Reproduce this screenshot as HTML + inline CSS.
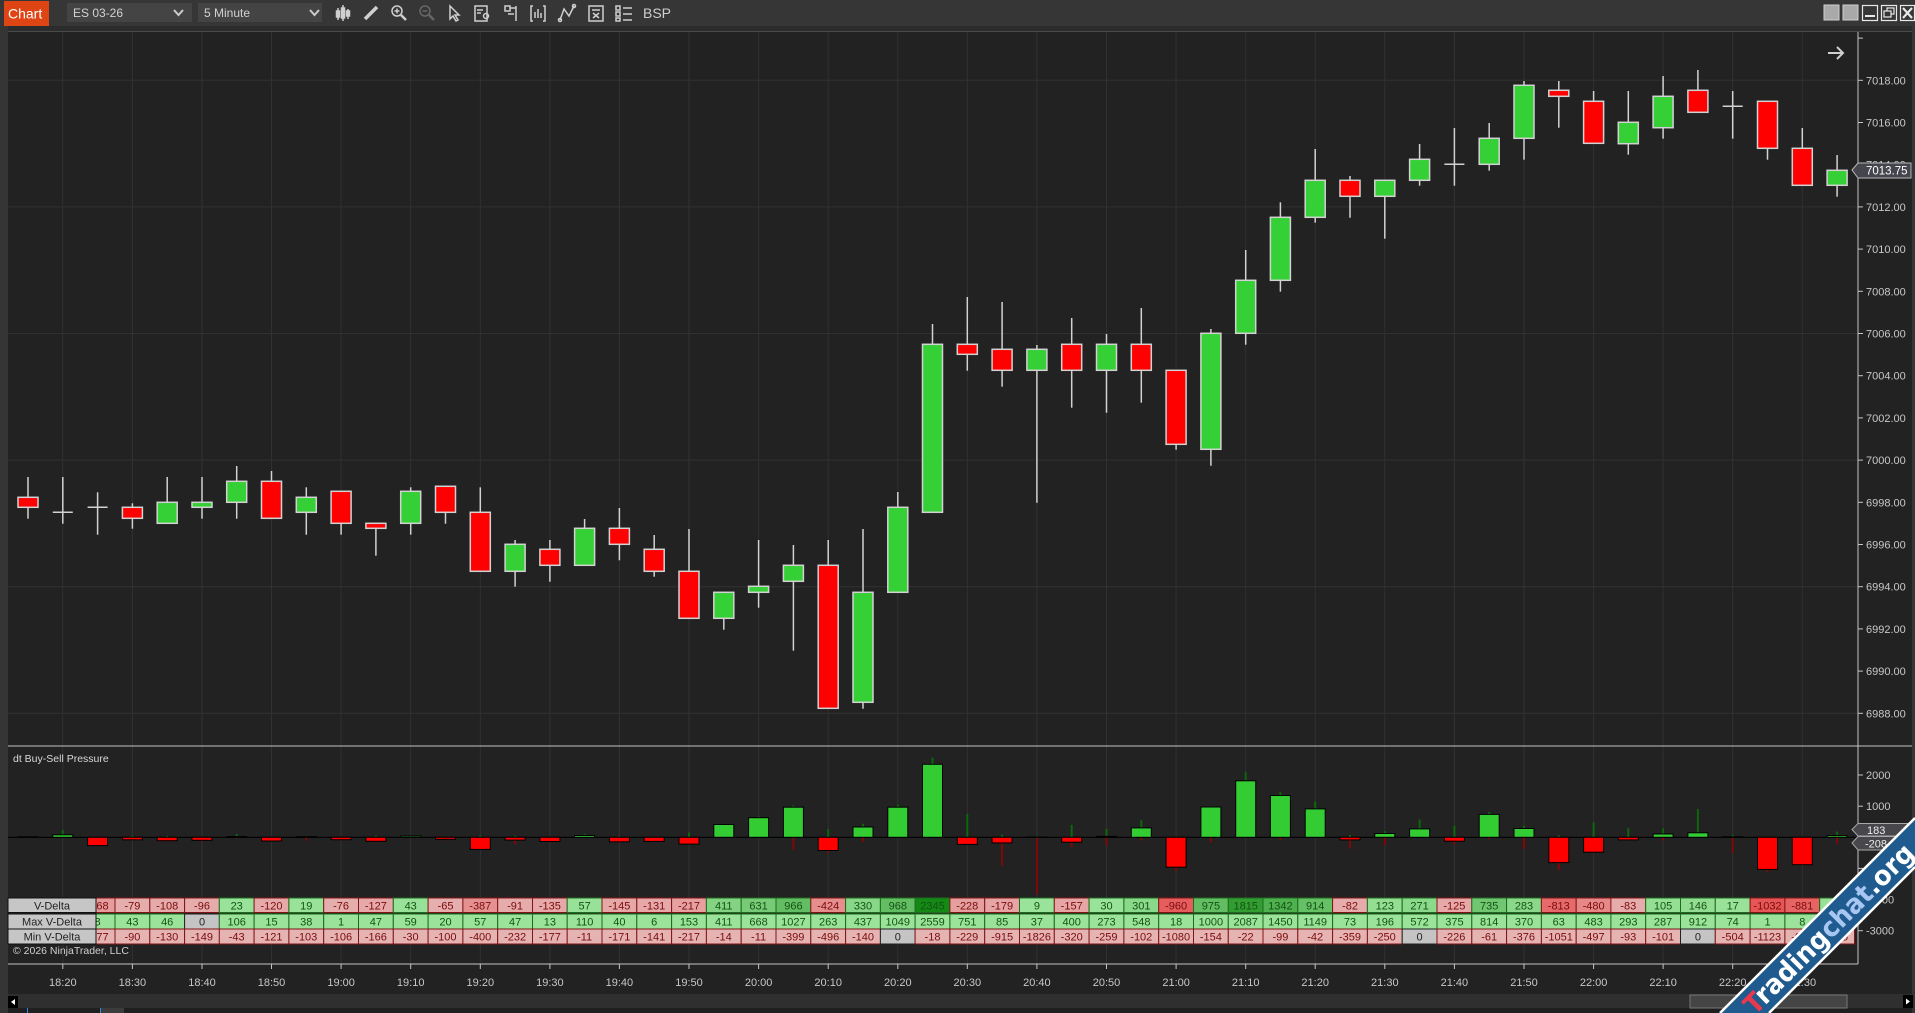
<!DOCTYPE html>
<html><head><meta charset="utf-8"><style>
html,body{margin:0;padding:0;background:#2a2a2a;overflow:hidden}
svg{display:block;font-family:"Liberation Sans",Arial,sans-serif}
.pl{fill:#c8c8c8;font-size:11px}
.tl{fill:#c8c8c8;font-size:11px;text-anchor:middle}
.cR{fill:#ff0000}.cG{fill:#34d036}
.hR{fill:#ff0000;stroke:#000;stroke-width:1}.hG{fill:#33cc33;stroke:#000;stroke-width:1}
.wg{stroke:#0b680b;stroke-width:2}.wr{stroke:#820808;stroke-width:2}
.r1g{stroke:#1e6b1e;stroke-width:1}.r1r{stroke:#801515;stroke-width:1}
.r2{fill:#9be39b;stroke:#1e6b1e;stroke-width:1}.r3{fill:#e6b3b3;stroke:#801515;stroke-width:1}
.z{fill:#c4c4c4;stroke:#222;stroke-width:1}
.tg{fill:#145214;font-size:11px;text-anchor:middle}
.tr{fill:#7a0c0c;font-size:11px;text-anchor:middle}
.tk{fill:#222;font-size:11px;text-anchor:middle}
</style></head><body>
<svg width="1915" height="1013" viewBox="0 0 1915 1013" xmlns="http://www.w3.org/2000/svg">
<!-- frame -->
<rect x="0" y="0" width="1915" height="1013" fill="#2c2c2c"/>
<rect x="0" y="0" width="1915" height="26" fill="#363636"/>
<rect x="0" y="26" width="8" height="987" fill="#353535"/>
<rect x="1912" y="26" width="3" height="987" fill="#353535"/>
<rect x="8" y="32" width="1904" height="962" fill="#222222"/>
<line x1="8" y1="31.5" x2="1912" y2="31.5" stroke="#4a4a4a"/>

<!-- toolbar -->
<rect x="4" y="1" width="45" height="25" fill="#df4514"/>
<text x="8" y="18.5" fill="#fff" font-size="14">Chart</text>
<rect x="67" y="3" width="125" height="19" fill="#444"/>
<text x="73" y="17" fill="#d2d2d2" font-size="12">ES 03-26</text>
<polyline points="174,10 178.5,15 183,10" fill="none" stroke="#ccc" stroke-width="2"/>
<rect x="198" y="3" width="124" height="19" fill="#444"/>
<text x="204" y="17" fill="#d2d2d2" font-size="12">5 Minute</text>
<polyline points="310,10 314.5,15 319,10" fill="none" stroke="#ccc" stroke-width="2"/>
<g stroke="#cfcfcf" fill="none" stroke-width="1.5">
<line x1="338" y1="8" x2="338" y2="20"/><rect x="336.5" y="11" width="3" height="6" fill="#cfcfcf"/>
<line x1="343" y1="5" x2="343" y2="21"/><rect x="341.5" y="8" width="3" height="10" fill="#cfcfcf"/>
<line x1="348" y1="9" x2="348" y2="19"/><rect x="346.5" y="11" width="3" height="5" fill="#cfcfcf"/>
<line x1="365" y1="19" x2="377" y2="7" stroke-width="3.5"/>
<circle cx="397" cy="11" r="5"/><line x1="401" y1="15" x2="406" y2="20" stroke-width="2.5"/><line x1="394.5" y1="11" x2="399.5" y2="11"/><line x1="397" y1="8.5" x2="397" y2="13.5"/>
<g stroke="#666"><circle cx="425" cy="11" r="5"/><line x1="429" y1="15" x2="434" y2="20" stroke-width="2.5"/><line x1="422.5" y1="11" x2="427.5" y2="11"/></g>
<polygon points="450,6 450,19 453,16 456,21 458,20 455,15 459,15"/>
<rect x="475" y="6" width="12" height="15"/><line x1="477" y1="10" x2="483" y2="10"/><line x1="477" y1="13" x2="481" y2="13"/><circle cx="486" cy="16" r="2.5"/>
<rect x="505" y="6" width="5" height="5"/><line x1="510" y1="8" x2="516" y2="8"/><line x1="516" y1="6" x2="516" y2="21"/><line x1="508" y1="14" x2="514" y2="14"/>
<polyline points="533,6 531,6 531,21 533,21"/><polyline points="543,6 545,6 545,21 543,21"/><line x1="535" y1="12" x2="535" y2="18"/><line x1="538" y1="9" x2="538" y2="18"/><line x1="541" y1="13" x2="541" y2="18"/>
<polyline points="560,20 564,9 569,16 574,6"/><circle cx="560" cy="20" r="1.5"/><circle cx="574" cy="6" r="1.5"/>
<rect x="589" y="6" width="14" height="15"/><line x1="592" y1="10" x2="600" y2="10"/><line x1="593" y1="13" x2="599" y2="18"/><line x1="599" y1="13" x2="593" y2="18"/>
<rect x="616" y="6" width="4" height="4"/><rect x="616" y="12" width="4" height="4"/><rect x="616" y="18" width="4" height="3"/><line x1="623" y1="8" x2="632" y2="8"/><line x1="623" y1="14" x2="632" y2="14"/><line x1="623" y1="20" x2="632" y2="20"/>
</g>
<text x="643" y="18" fill="#cfcfcf" font-size="14">BSP</text>
<!-- window buttons -->
<rect x="1824" y="5" width="15" height="15" fill="#a9a9a9" stroke="#d0d0d0"/>
<rect x="1843" y="5" width="15" height="15" fill="#a9a9a9" stroke="#d0d0d0"/>
<g fill="none" stroke="#e8e8e8" stroke-width="1.2">
<rect x="1862.5" y="5.5" width="15" height="15"/><line x1="1865" y1="16" x2="1875" y2="16" stroke-width="2"/>
<rect x="1881.5" y="5.5" width="15" height="15"/><rect x="1887" y="8" width="7" height="6"/><rect x="1884" y="11" width="7" height="6" fill="#363636"/>
<rect x="1900.5" y="5.5" width="14" height="15"/><line x1="1903" y1="8" x2="1912" y2="18" stroke-width="2.2"/><line x1="1912" y1="8" x2="1903" y2="18" stroke-width="2.2"/>
</g>

<!-- grid -->
<g stroke="#313131" stroke-width="1">
<line x1="8" y1="80.3" x2="1858" y2="80.3"/><line x1="8" y1="206.9" x2="1858" y2="206.9"/><line x1="8" y1="333.5" x2="1858" y2="333.5"/><line x1="8" y1="460.1" x2="1858" y2="460.1"/><line x1="8" y1="586.7" x2="1858" y2="586.7"/><line x1="8" y1="713.3" x2="1858" y2="713.3"/>
<line x1="62.8" y1="32" x2="62.8" y2="964"/><line x1="132.4" y1="32" x2="132.4" y2="964"/><line x1="202" y1="32" x2="202" y2="964"/><line x1="271.5" y1="32" x2="271.5" y2="964"/><line x1="341.1" y1="32" x2="341.1" y2="964"/><line x1="410.7" y1="32" x2="410.7" y2="964"/><line x1="480.3" y1="32" x2="480.3" y2="964"/><line x1="549.9" y1="32" x2="549.9" y2="964"/><line x1="619.4" y1="32" x2="619.4" y2="964"/><line x1="689" y1="32" x2="689" y2="964"/><line x1="758.6" y1="32" x2="758.6" y2="964"/><line x1="828.2" y1="32" x2="828.2" y2="964"/><line x1="897.8" y1="32" x2="897.8" y2="964"/><line x1="967.3" y1="32" x2="967.3" y2="964"/><line x1="1036.9" y1="32" x2="1036.9" y2="964"/><line x1="1106.5" y1="32" x2="1106.5" y2="964"/><line x1="1176.1" y1="32" x2="1176.1" y2="964"/><line x1="1245.7" y1="32" x2="1245.7" y2="964"/><line x1="1315.2" y1="32" x2="1315.2" y2="964"/><line x1="1384.8" y1="32" x2="1384.8" y2="964"/><line x1="1454.4" y1="32" x2="1454.4" y2="964"/><line x1="1524" y1="32" x2="1524" y2="964"/><line x1="1593.6" y1="32" x2="1593.6" y2="964"/><line x1="1663.1" y1="32" x2="1663.1" y2="964"/><line x1="1732.7" y1="32" x2="1732.7" y2="964"/><line x1="1802.3" y1="32" x2="1802.3" y2="964"/>
</g>

<!-- axes -->
<g stroke="#c4c4c4" stroke-width="1">
<line x1="1858" y1="32" x2="1858" y2="964"/>
<line x1="8" y1="746" x2="1912" y2="746"/>
<line x1="8" y1="964" x2="1858" y2="964"/>
<line x1="1858" y1="38.1" x2="1863" y2="38.1"/><line x1="1858" y1="80.3" x2="1863" y2="80.3"/><line x1="1858" y1="122.5" x2="1863" y2="122.5"/><line x1="1858" y1="164.7" x2="1863" y2="164.7"/><line x1="1858" y1="206.9" x2="1863" y2="206.9"/><line x1="1858" y1="249.1" x2="1863" y2="249.1"/><line x1="1858" y1="291.3" x2="1863" y2="291.3"/><line x1="1858" y1="333.5" x2="1863" y2="333.5"/><line x1="1858" y1="375.7" x2="1863" y2="375.7"/><line x1="1858" y1="417.9" x2="1863" y2="417.9"/><line x1="1858" y1="460.1" x2="1863" y2="460.1"/><line x1="1858" y1="502.3" x2="1863" y2="502.3"/><line x1="1858" y1="544.5" x2="1863" y2="544.5"/><line x1="1858" y1="586.7" x2="1863" y2="586.7"/><line x1="1858" y1="628.9" x2="1863" y2="628.9"/><line x1="1858" y1="671.1" x2="1863" y2="671.1"/><line x1="1858" y1="713.3" x2="1863" y2="713.3"/>
<line x1="1858" y1="775" x2="1863" y2="775"/><line x1="1858" y1="806.2" x2="1863" y2="806.2"/><line x1="1858" y1="837.3" x2="1863" y2="837.3"/><line x1="1858" y1="868.4" x2="1863" y2="868.4"/><line x1="1858" y1="899.6" x2="1863" y2="899.6"/><line x1="1858" y1="930.7" x2="1863" y2="930.7"/>
<line x1="62.8" y1="964" x2="62.8" y2="969"/><line x1="132.4" y1="964" x2="132.4" y2="969"/><line x1="202" y1="964" x2="202" y2="969"/><line x1="271.5" y1="964" x2="271.5" y2="969"/><line x1="341.1" y1="964" x2="341.1" y2="969"/><line x1="410.7" y1="964" x2="410.7" y2="969"/><line x1="480.3" y1="964" x2="480.3" y2="969"/><line x1="549.9" y1="964" x2="549.9" y2="969"/><line x1="619.4" y1="964" x2="619.4" y2="969"/><line x1="689" y1="964" x2="689" y2="969"/><line x1="758.6" y1="964" x2="758.6" y2="969"/><line x1="828.2" y1="964" x2="828.2" y2="969"/><line x1="897.8" y1="964" x2="897.8" y2="969"/><line x1="967.3" y1="964" x2="967.3" y2="969"/><line x1="1036.9" y1="964" x2="1036.9" y2="969"/><line x1="1106.5" y1="964" x2="1106.5" y2="969"/><line x1="1176.1" y1="964" x2="1176.1" y2="969"/><line x1="1245.7" y1="964" x2="1245.7" y2="969"/><line x1="1315.2" y1="964" x2="1315.2" y2="969"/><line x1="1384.8" y1="964" x2="1384.8" y2="969"/><line x1="1454.4" y1="964" x2="1454.4" y2="969"/><line x1="1524" y1="964" x2="1524" y2="969"/><line x1="1593.6" y1="964" x2="1593.6" y2="969"/><line x1="1663.1" y1="964" x2="1663.1" y2="969"/><line x1="1732.7" y1="964" x2="1732.7" y2="969"/><line x1="1802.3" y1="964" x2="1802.3" y2="969"/>
</g>
<g class="pl">
<text x="1866" y="84.3">7018.00</text><text x="1866" y="126.5">7016.00</text><text x="1866" y="168.7">7014.00</text><text x="1866" y="210.9">7012.00</text><text x="1866" y="253.1">7010.00</text><text x="1866" y="295.3">7008.00</text><text x="1866" y="337.5">7006.00</text><text x="1866" y="379.7">7004.00</text><text x="1866" y="421.9">7002.00</text><text x="1866" y="464.1">7000.00</text><text x="1866" y="506.3">6998.00</text><text x="1866" y="548.5">6996.00</text><text x="1866" y="590.7">6994.00</text><text x="1866" y="632.9">6992.00</text><text x="1866" y="675.1">6990.00</text><text x="1866" y="717.3">6988.00</text>
<text x="1866" y="779">2000</text><text x="1866" y="810.2">1000</text><text x="1866" y="841.3">0</text><text x="1866" y="872.4">-1000</text><text x="1866" y="903.6">-2000</text><text x="1866" y="934.7">-3000</text>
</g>
<g class="tl">
<text x="62.8" y="986">18:20</text><text x="132.4" y="986">18:30</text><text x="202" y="986">18:40</text><text x="271.5" y="986">18:50</text><text x="341.1" y="986">19:00</text><text x="410.7" y="986">19:10</text><text x="480.3" y="986">19:20</text><text x="549.9" y="986">19:30</text><text x="619.4" y="986">19:40</text><text x="689" y="986">19:50</text><text x="758.6" y="986">20:00</text><text x="828.2" y="986">20:10</text><text x="897.8" y="986">20:20</text><text x="967.3" y="986">20:30</text><text x="1036.9" y="986">20:40</text><text x="1106.5" y="986">20:50</text><text x="1176.1" y="986">21:00</text><text x="1245.7" y="986">21:10</text><text x="1315.2" y="986">21:20</text><text x="1384.8" y="986">21:30</text><text x="1454.4" y="986">21:40</text><text x="1524" y="986">21:50</text><text x="1593.6" y="986">22:00</text><text x="1663.1" y="986">22:10</text><text x="1732.7" y="986">22:20</text><text x="1802.3" y="986">22:30</text>
</g>

<!-- arrow -->
<g stroke="#d0d0d0" stroke-width="2" fill="none"><line x1="1828" y1="53" x2="1843" y2="53"/><polyline points="1837,47 1843,53 1837,59"/></g>

<!-- candle wicks -->
<g stroke="#d2d2d2" stroke-width="1.5">
<line x1="28" y1="477" x2="28" y2="518.7"/><line x1="62.8" y1="477" x2="62.8" y2="523.7"/><line x1="52.8" y1="512.3" x2="72.8" y2="512.3"/><line x1="97.6" y1="492.3" x2="97.6" y2="534.7"/><line x1="87.6" y1="507.3" x2="107.6" y2="507.3"/><line x1="132.4" y1="503.3" x2="132.4" y2="528.7"/><line x1="167.2" y1="477" x2="167.2" y2="523.3"/><line x1="202" y1="477" x2="202" y2="518.7"/><line x1="236.7" y1="466" x2="236.7" y2="518.7"/><line x1="271.5" y1="471" x2="271.5" y2="518.3"/><line x1="306.3" y1="487.3" x2="306.3" y2="534.7"/><line x1="341.1" y1="491.3" x2="341.1" y2="534.7"/><line x1="375.9" y1="523.3" x2="375.9" y2="555.7"/><line x1="410.7" y1="487.3" x2="410.7" y2="534.7"/><line x1="445.5" y1="486.3" x2="445.5" y2="523.7"/><line x1="480.3" y1="487.3" x2="480.3" y2="571.3"/><line x1="515.1" y1="540" x2="515.1" y2="586.7"/><line x1="549.9" y1="540" x2="549.9" y2="581.7"/><line x1="584.6" y1="519" x2="584.6" y2="565.3"/><line x1="619.4" y1="508" x2="619.4" y2="560.3"/><line x1="654.2" y1="535" x2="654.2" y2="576.7"/><line x1="689" y1="529" x2="689" y2="618.3"/><line x1="723.8" y1="592.3" x2="723.8" y2="629.7"/><line x1="758.6" y1="540" x2="758.6" y2="607.7"/><line x1="793.4" y1="545" x2="793.4" y2="650.7"/><line x1="828.2" y1="540" x2="828.2" y2="708.3"/><line x1="863" y1="529" x2="863" y2="708.7"/><line x1="897.8" y1="492" x2="897.8" y2="592.3"/><line x1="932.5" y1="324" x2="932.5" y2="512.3"/><line x1="967.3" y1="297" x2="967.3" y2="370.7"/><line x1="1002.1" y1="302" x2="1002.1" y2="386.7"/><line x1="1036.9" y1="345" x2="1036.9" y2="502.7"/><line x1="1071.7" y1="318" x2="1071.7" y2="407.7"/><line x1="1106.5" y1="334" x2="1106.5" y2="412.7"/><line x1="1141.3" y1="308" x2="1141.3" y2="402.7"/><line x1="1176.1" y1="370.3" x2="1176.1" y2="449.7"/><line x1="1210.9" y1="329" x2="1210.9" y2="465.7"/><line x1="1245.7" y1="250" x2="1245.7" y2="344.7"/><line x1="1280.4" y1="202.3" x2="1280.4" y2="291.7"/><line x1="1315.2" y1="149" x2="1315.2" y2="222.7"/><line x1="1350" y1="176" x2="1350" y2="217.7"/><line x1="1384.8" y1="180.3" x2="1384.8" y2="238.7"/><line x1="1419.6" y1="144" x2="1419.6" y2="185.7"/><line x1="1454.4" y1="128" x2="1454.4" y2="185.7"/><line x1="1444.4" y1="164.3" x2="1464.4" y2="164.3"/><line x1="1489.2" y1="123" x2="1489.2" y2="170.7"/><line x1="1524" y1="81" x2="1524" y2="159.7"/><line x1="1558.8" y1="81" x2="1558.8" y2="127.7"/><line x1="1593.6" y1="91" x2="1593.6" y2="143.3"/><line x1="1628.3" y1="91" x2="1628.3" y2="154.7"/><line x1="1663.1" y1="76" x2="1663.1" y2="138.7"/><line x1="1697.9" y1="70" x2="1697.9" y2="112.3"/><line x1="1732.7" y1="91" x2="1732.7" y2="138.7"/><line x1="1722.7" y1="106.3" x2="1742.7" y2="106.3"/><line x1="1767.5" y1="101.3" x2="1767.5" y2="159.7"/><line x1="1802.3" y1="128" x2="1802.3" y2="185.3"/><line x1="1837.1" y1="155" x2="1837.1" y2="196.7"/>
</g>
<!-- candle bodies -->
<g stroke="#d2d2d2" stroke-width="1.5">
<rect class="cR" x="18" y="497.3" width="20" height="10"/><rect class="cR" x="122.4" y="507.3" width="20" height="11"/><rect class="cG" x="157.2" y="502.3" width="20" height="21"/><rect class="cG" x="192" y="502.3" width="20" height="5"/><rect class="cG" x="226.7" y="481.3" width="20" height="21"/><rect class="cR" x="261.5" y="481.3" width="20" height="37"/><rect class="cG" x="296.3" y="497.3" width="20" height="15"/><rect class="cR" x="331.1" y="491.3" width="20" height="32"/><rect class="cR" x="365.9" y="523.3" width="20" height="5"/><rect class="cG" x="400.7" y="491.3" width="20" height="32"/><rect class="cR" x="435.5" y="486.3" width="20" height="26"/><rect class="cR" x="470.3" y="512.3" width="20" height="59"/><rect class="cG" x="505.1" y="544.3" width="20" height="27"/><rect class="cR" x="539.9" y="549.3" width="20" height="16"/><rect class="cG" x="574.6" y="528.3" width="20" height="37"/><rect class="cR" x="609.4" y="528.3" width="20" height="16"/><rect class="cR" x="644.2" y="549.3" width="20" height="22"/><rect class="cR" x="679" y="571.3" width="20" height="47"/><rect class="cG" x="713.8" y="592.3" width="20" height="26"/><rect class="cG" x="748.6" y="586.3" width="20" height="6"/><rect class="cG" x="783.4" y="565.3" width="20" height="16"/><rect class="cR" x="818.2" y="565.3" width="20" height="143"/><rect class="cG" x="853" y="592.3" width="20" height="110"/><rect class="cG" x="887.8" y="507.3" width="20" height="85"/><rect class="cG" x="922.5" y="344.3" width="20" height="168"/><rect class="cR" x="957.3" y="344.3" width="20" height="10"/><rect class="cR" x="992.1" y="349.3" width="20" height="21"/><rect class="cG" x="1026.9" y="349.3" width="20" height="21"/><rect class="cR" x="1061.7" y="344.3" width="20" height="26"/><rect class="cG" x="1096.5" y="344.3" width="20" height="26"/><rect class="cR" x="1131.3" y="344.3" width="20" height="26"/><rect class="cR" x="1166.1" y="370.3" width="20" height="74"/><rect class="cG" x="1200.9" y="333.3" width="20" height="116"/><rect class="cG" x="1235.7" y="280.3" width="20" height="53"/><rect class="cG" x="1270.4" y="217.3" width="20" height="63"/><rect class="cG" x="1305.2" y="180.3" width="20" height="37"/><rect class="cR" x="1340" y="180.3" width="20" height="16"/><rect class="cG" x="1374.8" y="180.3" width="20" height="16"/><rect class="cG" x="1409.6" y="159.3" width="20" height="21"/><rect class="cG" x="1479.2" y="138.3" width="20" height="26"/><rect class="cG" x="1514" y="85.3" width="20" height="53"/><rect class="cR" x="1548.8" y="90.3" width="20" height="6"/><rect class="cR" x="1583.6" y="101.3" width="20" height="42"/><rect class="cG" x="1618.3" y="122.3" width="20" height="21.4"/><rect class="cG" x="1653.1" y="96.3" width="20" height="31.4"/><rect class="cR" x="1687.9" y="90.3" width="20" height="22"/><rect class="cR" x="1757.5" y="101.3" width="20" height="47"/><rect class="cR" x="1792.3" y="148.3" width="20" height="37"/><rect class="cG" x="1827.1" y="170.3" width="20" height="15"/>
</g>
<!-- price marker -->
<polygon points="1852,170 1858,163 1911,163 1911,178 1858,178" fill="#45464d" stroke="#b8b8b8" stroke-width="1"/>
<text x="1866" y="174.5" fill="#fff" font-size="11.5">7013.75</text>

<!-- lower panel -->
<text x="13" y="762" fill="#d8d8d8" font-size="10.5">dt Buy-Sell Pressure</text>
<line x1="8" y1="837.3" x2="1858" y2="837.3" stroke="#000" stroke-width="1.2"/>
<g class="wg">
<line x1="28" y1="837.3" x2="28" y2="836.4"/><line x1="62.8" y1="837.3" x2="62.8" y2="830.1"/><line x1="132.4" y1="837.3" x2="132.4" y2="836"/><line x1="167.2" y1="837.3" x2="167.2" y2="835.9"/><line x1="236.7" y1="837.3" x2="236.7" y2="834"/><line x1="306.3" y1="837.3" x2="306.3" y2="836.1"/><line x1="375.9" y1="837.3" x2="375.9" y2="835.8"/><line x1="410.7" y1="837.3" x2="410.7" y2="835.5"/><line x1="445.5" y1="837.3" x2="445.5" y2="836.7"/><line x1="480.3" y1="837.3" x2="480.3" y2="835.5"/><line x1="515.1" y1="837.3" x2="515.1" y2="835.8"/><line x1="584.6" y1="837.3" x2="584.6" y2="833.9"/><line x1="619.4" y1="837.3" x2="619.4" y2="836.1"/><line x1="689" y1="837.3" x2="689" y2="832.5"/><line x1="758.6" y1="837.3" x2="758.6" y2="816.5"/><line x1="793.4" y1="837.3" x2="793.4" y2="805.3"/><line x1="828.2" y1="837.3" x2="828.2" y2="829.1"/><line x1="863" y1="837.3" x2="863" y2="823.7"/><line x1="897.8" y1="837.3" x2="897.8" y2="804.6"/><line x1="932.5" y1="837.3" x2="932.5" y2="757.6"/><line x1="967.3" y1="837.3" x2="967.3" y2="813.9"/><line x1="1002.1" y1="837.3" x2="1002.1" y2="834.6"/><line x1="1036.9" y1="837.3" x2="1036.9" y2="836.1"/><line x1="1071.7" y1="837.3" x2="1071.7" y2="824.8"/><line x1="1106.5" y1="837.3" x2="1106.5" y2="828.8"/><line x1="1141.3" y1="837.3" x2="1141.3" y2="820.2"/><line x1="1176.1" y1="837.3" x2="1176.1" y2="836.7"/><line x1="1210.9" y1="837.3" x2="1210.9" y2="806.2"/><line x1="1245.7" y1="837.3" x2="1245.7" y2="772.3"/><line x1="1280.4" y1="837.3" x2="1280.4" y2="792.2"/><line x1="1315.2" y1="837.3" x2="1315.2" y2="801.5"/><line x1="1350" y1="837.3" x2="1350" y2="835"/><line x1="1384.8" y1="837.3" x2="1384.8" y2="831.2"/><line x1="1419.6" y1="837.3" x2="1419.6" y2="819.5"/><line x1="1454.4" y1="837.3" x2="1454.4" y2="825.6"/><line x1="1489.2" y1="837.3" x2="1489.2" y2="812"/><line x1="1524" y1="837.3" x2="1524" y2="825.8"/><line x1="1558.8" y1="837.3" x2="1558.8" y2="835.3"/><line x1="1593.6" y1="837.3" x2="1593.6" y2="822.3"/><line x1="1628.3" y1="837.3" x2="1628.3" y2="828.2"/><line x1="1663.1" y1="837.3" x2="1663.1" y2="828.4"/><line x1="1697.9" y1="837.3" x2="1697.9" y2="808.9"/><line x1="1732.7" y1="837.3" x2="1732.7" y2="835"/><line x1="1837.1" y1="837.3" x2="1837.1" y2="831.6"/>
</g>
<g class="wr">
<line x1="97.6" y1="837.3" x2="97.6" y2="845.9"/><line x1="132.4" y1="837.3" x2="132.4" y2="840.1"/><line x1="167.2" y1="837.3" x2="167.2" y2="841.4"/><line x1="202" y1="837.3" x2="202" y2="841.9"/><line x1="236.7" y1="837.3" x2="236.7" y2="838.6"/><line x1="271.5" y1="837.3" x2="271.5" y2="841.1"/><line x1="306.3" y1="837.3" x2="306.3" y2="840.5"/><line x1="341.1" y1="837.3" x2="341.1" y2="840.6"/><line x1="375.9" y1="837.3" x2="375.9" y2="842.5"/><line x1="410.7" y1="837.3" x2="410.7" y2="838.2"/><line x1="445.5" y1="837.3" x2="445.5" y2="840.4"/><line x1="480.3" y1="837.3" x2="480.3" y2="849.8"/><line x1="515.1" y1="837.3" x2="515.1" y2="844.5"/><line x1="549.9" y1="837.3" x2="549.9" y2="842.8"/><line x1="619.4" y1="837.3" x2="619.4" y2="842.6"/><line x1="654.2" y1="837.3" x2="654.2" y2="841.7"/><line x1="689" y1="837.3" x2="689" y2="844.1"/><line x1="793.4" y1="837.3" x2="793.4" y2="849.7"/><line x1="828.2" y1="837.3" x2="828.2" y2="852.7"/><line x1="863" y1="837.3" x2="863" y2="841.7"/><line x1="967.3" y1="837.3" x2="967.3" y2="844.4"/><line x1="1002.1" y1="837.3" x2="1002.1" y2="865.8"/><line x1="1036.9" y1="837.3" x2="1036.9" y2="894.1"/><line x1="1071.7" y1="837.3" x2="1071.7" y2="847.3"/><line x1="1106.5" y1="837.3" x2="1106.5" y2="845.4"/><line x1="1141.3" y1="837.3" x2="1141.3" y2="840.5"/><line x1="1176.1" y1="837.3" x2="1176.1" y2="870.9"/><line x1="1210.9" y1="837.3" x2="1210.9" y2="842.1"/><line x1="1280.4" y1="837.3" x2="1280.4" y2="840.4"/><line x1="1350" y1="837.3" x2="1350" y2="848.5"/><line x1="1384.8" y1="837.3" x2="1384.8" y2="845.1"/><line x1="1454.4" y1="837.3" x2="1454.4" y2="844.3"/><line x1="1489.2" y1="837.3" x2="1489.2" y2="839.2"/><line x1="1524" y1="837.3" x2="1524" y2="849"/><line x1="1558.8" y1="837.3" x2="1558.8" y2="870"/><line x1="1593.6" y1="837.3" x2="1593.6" y2="852.8"/><line x1="1628.3" y1="837.3" x2="1628.3" y2="840.2"/><line x1="1663.1" y1="837.3" x2="1663.1" y2="840.4"/><line x1="1732.7" y1="837.3" x2="1732.7" y2="853"/><line x1="1767.5" y1="837.3" x2="1767.5" y2="872.3"/><line x1="1802.3" y1="837.3" x2="1802.3" y2="865.5"/><line x1="1837.1" y1="837.3" x2="1837.1" y2="843.8"/>
</g>
<g>
<rect class="hG" x="18" y="836.8" width="20" height="0.5"/><rect class="hG" x="52.8" y="834.8" width="20" height="2.5"/><rect class="hR" x="87.6" y="837.3" width="20" height="8.3"/><rect class="hR" x="122.4" y="837.3" width="20" height="2.5"/><rect class="hR" x="157.2" y="837.3" width="20" height="3.4"/><rect class="hR" x="192" y="837.3" width="20" height="3"/><rect class="hG" x="226.7" y="836.6" width="20" height="0.7"/><rect class="hR" x="261.5" y="837.3" width="20" height="3.7"/><rect class="hG" x="296.3" y="836.7" width="20" height="0.6"/><rect class="hR" x="331.1" y="837.3" width="20" height="2.4"/><rect class="hR" x="365.9" y="837.3" width="20" height="4"/><rect class="hG" x="400.7" y="836" width="20" height="1.3"/><rect class="hR" x="435.5" y="837.3" width="20" height="2"/><rect class="hR" x="470.3" y="837.3" width="20" height="12.1"/><rect class="hR" x="505.1" y="837.3" width="20" height="2.8"/><rect class="hR" x="539.9" y="837.3" width="20" height="4.2"/><rect class="hG" x="574.6" y="835.5" width="20" height="1.8"/><rect class="hR" x="609.4" y="837.3" width="20" height="4.5"/><rect class="hR" x="644.2" y="837.3" width="20" height="4.1"/><rect class="hR" x="679" y="837.3" width="20" height="6.8"/><rect class="hG" x="713.8" y="824.5" width="20" height="12.8"/><rect class="hG" x="748.6" y="817.7" width="20" height="19.6"/><rect class="hG" x="783.4" y="807.2" width="20" height="30.1"/><rect class="hR" x="818.2" y="837.3" width="20" height="13.2"/><rect class="hG" x="853" y="827" width="20" height="10.3"/><rect class="hG" x="887.8" y="807.2" width="20" height="30.1"/><rect class="hG" x="922.5" y="764.3" width="20" height="73"/><rect class="hR" x="957.3" y="837.3" width="20" height="7.1"/><rect class="hR" x="992.1" y="837.3" width="20" height="5.6"/><rect class="hG" x="1026.9" y="837" width="20" height="0.3"/><rect class="hR" x="1061.7" y="837.3" width="20" height="4.9"/><rect class="hG" x="1096.5" y="836.4" width="20" height="0.9"/><rect class="hG" x="1131.3" y="827.9" width="20" height="9.4"/><rect class="hR" x="1166.1" y="837.3" width="20" height="29.9"/><rect class="hG" x="1200.9" y="807" width="20" height="30.3"/><rect class="hG" x="1235.7" y="780.8" width="20" height="56.5"/><rect class="hG" x="1270.4" y="795.5" width="20" height="41.8"/><rect class="hG" x="1305.2" y="808.9" width="20" height="28.4"/><rect class="hR" x="1340" y="837.3" width="20" height="2.6"/><rect class="hG" x="1374.8" y="833.5" width="20" height="3.8"/><rect class="hG" x="1409.6" y="828.9" width="20" height="8.4"/><rect class="hR" x="1444.4" y="837.3" width="20" height="3.9"/><rect class="hG" x="1479.2" y="814.4" width="20" height="22.9"/><rect class="hG" x="1514" y="828.5" width="20" height="8.8"/><rect class="hR" x="1548.8" y="837.3" width="20" height="25.3"/><rect class="hR" x="1583.6" y="837.3" width="20" height="14.9"/><rect class="hR" x="1618.3" y="837.3" width="20" height="2.6"/><rect class="hG" x="1653.1" y="834" width="20" height="3.3"/><rect class="hG" x="1687.9" y="832.8" width="20" height="4.5"/><rect class="hG" x="1722.7" y="836.8" width="20" height="0.5"/><rect class="hR" x="1757.5" y="837.3" width="20" height="32.1"/><rect class="hR" x="1792.3" y="837.3" width="20" height="27.4"/><rect class="hG" x="1827.1" y="835.6" width="20" height="1.7"/>
</g>
<!-- lower markers -->
<polygon points="1852,829.5 1858,823.5 1911,823.5 1911,836 1858,836" fill="#48484c" stroke="#a8a8a8" stroke-width="1"/>
<text x="1867" y="834" fill="#eee" font-size="11">183</text>
<polygon points="1852,843 1858,836.5 1911,836.5 1911,850 1858,850" fill="#48484c" stroke="#a8a8a8" stroke-width="1"/>
<text x="1865" y="847.5" fill="#eee" font-size="11">-208</text>

<!-- table row 1 -->
<g>
<rect class="r1r" fill="#e69c9c" x="80.2" y="898" width="34.8" height="14.5"/><rect class="r1r" fill="#e6adad" x="115" y="898" width="34.8" height="14.5"/><rect class="r1r" fill="#e6aaaa" x="149.8" y="898" width="34.8" height="14.5"/><rect class="r1r" fill="#e6abab" x="184.6" y="898" width="34.8" height="14.5"/><rect class="r1g" fill="#99e299" x="219.3" y="898" width="34.8" height="14.5"/><rect class="r1r" fill="#e6a9a9" x="254.1" y="898" width="34.8" height="14.5"/><rect class="r1g" fill="#99e299" x="288.9" y="898" width="34.8" height="14.5"/><rect class="r1r" fill="#e6adad" x="323.7" y="898" width="34.8" height="14.5"/><rect class="r1r" fill="#e6a8a8" x="358.5" y="898" width="34.8" height="14.5"/><rect class="r1g" fill="#98e198" x="393.3" y="898" width="34.8" height="14.5"/><rect class="r1r" fill="#e6aeae" x="428.1" y="898" width="34.8" height="14.5"/><rect class="r1r" fill="#e69191" x="462.9" y="898" width="34.8" height="14.5"/><rect class="r1r" fill="#e6acac" x="497.7" y="898" width="34.8" height="14.5"/><rect class="r1r" fill="#e6a8a8" x="532.5" y="898" width="34.8" height="14.5"/><rect class="r1g" fill="#98e198" x="567.2" y="898" width="34.8" height="14.5"/><rect class="r1r" fill="#e6a7a7" x="602" y="898" width="34.8" height="14.5"/><rect class="r1r" fill="#e6a8a8" x="636.8" y="898" width="34.8" height="14.5"/><rect class="r1r" fill="#e6a0a0" x="671.6" y="898" width="34.8" height="14.5"/><rect class="r1g" fill="#83d383" x="706.4" y="898" width="34.8" height="14.5"/><rect class="r1g" fill="#77cb77" x="741.2" y="898" width="34.8" height="14.5"/><rect class="r1g" fill="#63be63" x="776" y="898" width="34.8" height="14.5"/><rect class="r1r" fill="#e68d8d" x="810.8" y="898" width="34.8" height="14.5"/><rect class="r1g" fill="#88d688" x="845.6" y="898" width="34.8" height="14.5"/><rect class="r1g" fill="#63be63" x="880.4" y="898" width="34.8" height="14.5"/><rect class="r1g" fill="#148a14" x="915.1" y="898" width="34.8" height="14.5"/><rect class="r1r" fill="#e69f9f" x="949.9" y="898" width="34.8" height="14.5"/><rect class="r1r" fill="#e6a4a4" x="984.7" y="898" width="34.8" height="14.5"/><rect class="r1g" fill="#9ae39a" x="1019.5" y="898" width="34.8" height="14.5"/><rect class="r1r" fill="#e6a6a6" x="1054.3" y="898" width="34.8" height="14.5"/><rect class="r1g" fill="#99e299" x="1089.1" y="898" width="34.8" height="14.5"/><rect class="r1g" fill="#8ad88a" x="1123.9" y="898" width="34.8" height="14.5"/><rect class="r1r" fill="#e65d5d" x="1158.7" y="898" width="34.8" height="14.5"/><rect class="r1g" fill="#63be63" x="1193.5" y="898" width="34.8" height="14.5"/><rect class="r1g" fill="#329e32" x="1228.3" y="898" width="34.8" height="14.5"/><rect class="r1g" fill="#4eb04e" x="1263" y="898" width="34.8" height="14.5"/><rect class="r1g" fill="#66c066" x="1297.8" y="898" width="34.8" height="14.5"/><rect class="r1r" fill="#e6acac" x="1332.6" y="898" width="34.8" height="14.5"/><rect class="r1g" fill="#94de94" x="1367.4" y="898" width="34.8" height="14.5"/><rect class="r1g" fill="#8bd98b" x="1402.2" y="898" width="34.8" height="14.5"/><rect class="r1r" fill="#e6a8a8" x="1437" y="898" width="34.8" height="14.5"/><rect class="r1g" fill="#71c771" x="1471.8" y="898" width="34.8" height="14.5"/><rect class="r1g" fill="#8bd88b" x="1506.6" y="898" width="34.8" height="14.5"/><rect class="r1r" fill="#e66a6a" x="1541.4" y="898" width="34.8" height="14.5"/><rect class="r1r" fill="#e68888" x="1576.2" y="898" width="34.8" height="14.5"/><rect class="r1r" fill="#e6acac" x="1610.9" y="898" width="34.8" height="14.5"/><rect class="r1g" fill="#95df95" x="1645.7" y="898" width="34.8" height="14.5"/><rect class="r1g" fill="#93dd93" x="1680.5" y="898" width="34.8" height="14.5"/><rect class="r1g" fill="#9ae29a" x="1715.3" y="898" width="34.8" height="14.5"/><rect class="r1r" fill="#e65656" x="1750.1" y="898" width="34.8" height="14.5"/><rect class="r1r" fill="#e66464" x="1784.9" y="898" width="34.8" height="14.5"/><rect class="r1g" fill="#98e198" x="1819.7" y="898" width="34.8" height="14.5"/>
</g>
<g>
<text class="tr" x="97.6" y="909.3">-268</text><text class="tr" x="132.4" y="909.3">-79</text><text class="tr" x="167.2" y="909.3">-108</text><text class="tr" x="202" y="909.3">-96</text><text class="tg" x="236.7" y="909.3">23</text><text class="tr" x="271.5" y="909.3">-120</text><text class="tg" x="306.3" y="909.3">19</text><text class="tr" x="341.1" y="909.3">-76</text><text class="tr" x="375.9" y="909.3">-127</text><text class="tg" x="410.7" y="909.3">43</text><text class="tr" x="445.5" y="909.3">-65</text><text class="tr" x="480.3" y="909.3">-387</text><text class="tr" x="515.1" y="909.3">-91</text><text class="tr" x="549.9" y="909.3">-135</text><text class="tg" x="584.6" y="909.3">57</text><text class="tr" x="619.4" y="909.3">-145</text><text class="tr" x="654.2" y="909.3">-131</text><text class="tr" x="689" y="909.3">-217</text><text class="tg" x="723.8" y="909.3">411</text><text class="tg" x="758.6" y="909.3">631</text><text class="tg" x="793.4" y="909.3">966</text><text class="tr" x="828.2" y="909.3">-424</text><text class="tg" x="863" y="909.3">330</text><text class="tg" x="897.8" y="909.3">968</text><text class="tg" x="932.5" y="909.3">2345</text><text class="tr" x="967.3" y="909.3">-228</text><text class="tr" x="1002.1" y="909.3">-179</text><text class="tg" x="1036.9" y="909.3">9</text><text class="tr" x="1071.7" y="909.3">-157</text><text class="tg" x="1106.5" y="909.3">30</text><text class="tg" x="1141.3" y="909.3">301</text><text class="tr" x="1176.1" y="909.3">-960</text><text class="tg" x="1210.9" y="909.3">975</text><text class="tg" x="1245.7" y="909.3">1815</text><text class="tg" x="1280.4" y="909.3">1342</text><text class="tg" x="1315.2" y="909.3">914</text><text class="tr" x="1350" y="909.3">-82</text><text class="tg" x="1384.8" y="909.3">123</text><text class="tg" x="1419.6" y="909.3">271</text><text class="tr" x="1454.4" y="909.3">-125</text><text class="tg" x="1489.2" y="909.3">735</text><text class="tg" x="1524" y="909.3">283</text><text class="tr" x="1558.8" y="909.3">-813</text><text class="tr" x="1593.6" y="909.3">-480</text><text class="tr" x="1628.3" y="909.3">-83</text><text class="tg" x="1663.1" y="909.3">105</text><text class="tg" x="1697.9" y="909.3">146</text><text class="tg" x="1732.7" y="909.3">17</text><text class="tr" x="1767.5" y="909.3">-1032</text><text class="tr" x="1802.3" y="909.3">-881</text><text class="tg" x="1837.1" y="909.3">53</text>
</g>
<!-- table row 2 -->
<g>
<rect class="r2" x="80.2" y="914" width="34.8" height="15"/><rect class="r2" x="115" y="914" width="34.8" height="15"/><rect class="r2" x="149.8" y="914" width="34.8" height="15"/><rect class="z" x="184.6" y="914" width="34.8" height="15"/><rect class="r2" x="219.3" y="914" width="34.8" height="15"/><rect class="r2" x="254.1" y="914" width="34.8" height="15"/><rect class="r2" x="288.9" y="914" width="34.8" height="15"/><rect class="r2" x="323.7" y="914" width="34.8" height="15"/><rect class="r2" x="358.5" y="914" width="34.8" height="15"/><rect class="r2" x="393.3" y="914" width="34.8" height="15"/><rect class="r2" x="428.1" y="914" width="34.8" height="15"/><rect class="r2" x="462.9" y="914" width="34.8" height="15"/><rect class="r2" x="497.7" y="914" width="34.8" height="15"/><rect class="r2" x="532.5" y="914" width="34.8" height="15"/><rect class="r2" x="567.2" y="914" width="34.8" height="15"/><rect class="r2" x="602" y="914" width="34.8" height="15"/><rect class="r2" x="636.8" y="914" width="34.8" height="15"/><rect class="r2" x="671.6" y="914" width="34.8" height="15"/><rect class="r2" x="706.4" y="914" width="34.8" height="15"/><rect class="r2" x="741.2" y="914" width="34.8" height="15"/><rect class="r2" x="776" y="914" width="34.8" height="15"/><rect class="r2" x="810.8" y="914" width="34.8" height="15"/><rect class="r2" x="845.6" y="914" width="34.8" height="15"/><rect class="r2" x="880.4" y="914" width="34.8" height="15"/><rect class="r2" x="915.1" y="914" width="34.8" height="15"/><rect class="r2" x="949.9" y="914" width="34.8" height="15"/><rect class="r2" x="984.7" y="914" width="34.8" height="15"/><rect class="r2" x="1019.5" y="914" width="34.8" height="15"/><rect class="r2" x="1054.3" y="914" width="34.8" height="15"/><rect class="r2" x="1089.1" y="914" width="34.8" height="15"/><rect class="r2" x="1123.9" y="914" width="34.8" height="15"/><rect class="r2" x="1158.7" y="914" width="34.8" height="15"/><rect class="r2" x="1193.5" y="914" width="34.8" height="15"/><rect class="r2" x="1228.3" y="914" width="34.8" height="15"/><rect class="r2" x="1263" y="914" width="34.8" height="15"/><rect class="r2" x="1297.8" y="914" width="34.8" height="15"/><rect class="r2" x="1332.6" y="914" width="34.8" height="15"/><rect class="r2" x="1367.4" y="914" width="34.8" height="15"/><rect class="r2" x="1402.2" y="914" width="34.8" height="15"/><rect class="r2" x="1437" y="914" width="34.8" height="15"/><rect class="r2" x="1471.8" y="914" width="34.8" height="15"/><rect class="r2" x="1506.6" y="914" width="34.8" height="15"/><rect class="r2" x="1541.4" y="914" width="34.8" height="15"/><rect class="r2" x="1576.2" y="914" width="34.8" height="15"/><rect class="r2" x="1610.9" y="914" width="34.8" height="15"/><rect class="r2" x="1645.7" y="914" width="34.8" height="15"/><rect class="r2" x="1680.5" y="914" width="34.8" height="15"/><rect class="r2" x="1715.3" y="914" width="34.8" height="15"/><rect class="r2" x="1750.1" y="914" width="34.8" height="15"/><rect class="r2" x="1784.9" y="914" width="34.8" height="15"/><rect class="r2" x="1819.7" y="914" width="34.8" height="15"/>
</g>
<g class="tg">
<text x="97.6" y="925.5">8</text><text x="132.4" y="925.5">43</text><text x="167.2" y="925.5">46</text><text class="tk" x="202" y="925.5">0</text><text x="236.7" y="925.5">106</text><text x="271.5" y="925.5">15</text><text x="306.3" y="925.5">38</text><text x="341.1" y="925.5">1</text><text x="375.9" y="925.5">47</text><text x="410.7" y="925.5">59</text><text x="445.5" y="925.5">20</text><text x="480.3" y="925.5">57</text><text x="515.1" y="925.5">47</text><text x="549.9" y="925.5">13</text><text x="584.6" y="925.5">110</text><text x="619.4" y="925.5">40</text><text x="654.2" y="925.5">6</text><text x="689" y="925.5">153</text><text x="723.8" y="925.5">411</text><text x="758.6" y="925.5">668</text><text x="793.4" y="925.5">1027</text><text x="828.2" y="925.5">263</text><text x="863" y="925.5">437</text><text x="897.8" y="925.5">1049</text><text x="932.5" y="925.5">2559</text><text x="967.3" y="925.5">751</text><text x="1002.1" y="925.5">85</text><text x="1036.9" y="925.5">37</text><text x="1071.7" y="925.5">400</text><text x="1106.5" y="925.5">273</text><text x="1141.3" y="925.5">548</text><text x="1176.1" y="925.5">18</text><text x="1210.9" y="925.5">1000</text><text x="1245.7" y="925.5">2087</text><text x="1280.4" y="925.5">1450</text><text x="1315.2" y="925.5">1149</text><text x="1350" y="925.5">73</text><text x="1384.8" y="925.5">196</text><text x="1419.6" y="925.5">572</text><text x="1454.4" y="925.5">375</text><text x="1489.2" y="925.5">814</text><text x="1524" y="925.5">370</text><text x="1558.8" y="925.5">63</text><text x="1593.6" y="925.5">483</text><text x="1628.3" y="925.5">293</text><text x="1663.1" y="925.5">287</text><text x="1697.9" y="925.5">912</text><text x="1732.7" y="925.5">74</text><text x="1767.5" y="925.5">1</text><text x="1802.3" y="925.5">8</text><text x="1837.1" y="925.5">183</text>
</g>
<!-- table row 3 -->
<g>
<rect class="r3" x="80.2" y="929" width="34.8" height="15"/><rect class="r3" x="115" y="929" width="34.8" height="15"/><rect class="r3" x="149.8" y="929" width="34.8" height="15"/><rect class="r3" x="184.6" y="929" width="34.8" height="15"/><rect class="r3" x="219.3" y="929" width="34.8" height="15"/><rect class="r3" x="254.1" y="929" width="34.8" height="15"/><rect class="r3" x="288.9" y="929" width="34.8" height="15"/><rect class="r3" x="323.7" y="929" width="34.8" height="15"/><rect class="r3" x="358.5" y="929" width="34.8" height="15"/><rect class="r3" x="393.3" y="929" width="34.8" height="15"/><rect class="r3" x="428.1" y="929" width="34.8" height="15"/><rect class="r3" x="462.9" y="929" width="34.8" height="15"/><rect class="r3" x="497.7" y="929" width="34.8" height="15"/><rect class="r3" x="532.5" y="929" width="34.8" height="15"/><rect class="r3" x="567.2" y="929" width="34.8" height="15"/><rect class="r3" x="602" y="929" width="34.8" height="15"/><rect class="r3" x="636.8" y="929" width="34.8" height="15"/><rect class="r3" x="671.6" y="929" width="34.8" height="15"/><rect class="r3" x="706.4" y="929" width="34.8" height="15"/><rect class="r3" x="741.2" y="929" width="34.8" height="15"/><rect class="r3" x="776" y="929" width="34.8" height="15"/><rect class="r3" x="810.8" y="929" width="34.8" height="15"/><rect class="r3" x="845.6" y="929" width="34.8" height="15"/><rect class="z" x="880.4" y="929" width="34.8" height="15"/><rect class="r3" x="915.1" y="929" width="34.8" height="15"/><rect class="r3" x="949.9" y="929" width="34.8" height="15"/><rect class="r3" x="984.7" y="929" width="34.8" height="15"/><rect class="r3" x="1019.5" y="929" width="34.8" height="15"/><rect class="r3" x="1054.3" y="929" width="34.8" height="15"/><rect class="r3" x="1089.1" y="929" width="34.8" height="15"/><rect class="r3" x="1123.9" y="929" width="34.8" height="15"/><rect class="r3" x="1158.7" y="929" width="34.8" height="15"/><rect class="r3" x="1193.5" y="929" width="34.8" height="15"/><rect class="r3" x="1228.3" y="929" width="34.8" height="15"/><rect class="r3" x="1263" y="929" width="34.8" height="15"/><rect class="r3" x="1297.8" y="929" width="34.8" height="15"/><rect class="r3" x="1332.6" y="929" width="34.8" height="15"/><rect class="r3" x="1367.4" y="929" width="34.8" height="15"/><rect class="z" x="1402.2" y="929" width="34.8" height="15"/><rect class="r3" x="1437" y="929" width="34.8" height="15"/><rect class="r3" x="1471.8" y="929" width="34.8" height="15"/><rect class="r3" x="1506.6" y="929" width="34.8" height="15"/><rect class="r3" x="1541.4" y="929" width="34.8" height="15"/><rect class="r3" x="1576.2" y="929" width="34.8" height="15"/><rect class="r3" x="1610.9" y="929" width="34.8" height="15"/><rect class="r3" x="1645.7" y="929" width="34.8" height="15"/><rect class="z" x="1680.5" y="929" width="34.8" height="15"/><rect class="r3" x="1715.3" y="929" width="34.8" height="15"/><rect class="r3" x="1750.1" y="929" width="34.8" height="15"/><rect class="r3" x="1784.9" y="929" width="34.8" height="15"/><rect class="r3" x="1819.7" y="929" width="34.8" height="15"/>
</g>
<g class="tr">
<text x="97.6" y="940.5">-277</text><text x="132.4" y="940.5">-90</text><text x="167.2" y="940.5">-130</text><text x="202" y="940.5">-149</text><text x="236.7" y="940.5">-43</text><text x="271.5" y="940.5">-121</text><text x="306.3" y="940.5">-103</text><text x="341.1" y="940.5">-106</text><text x="375.9" y="940.5">-166</text><text x="410.7" y="940.5">-30</text><text x="445.5" y="940.5">-100</text><text x="480.3" y="940.5">-400</text><text x="515.1" y="940.5">-232</text><text x="549.9" y="940.5">-177</text><text x="584.6" y="940.5">-11</text><text x="619.4" y="940.5">-171</text><text x="654.2" y="940.5">-141</text><text x="689" y="940.5">-217</text><text x="723.8" y="940.5">-14</text><text x="758.6" y="940.5">-11</text><text x="793.4" y="940.5">-399</text><text x="828.2" y="940.5">-496</text><text x="863" y="940.5">-140</text><text class="tk" x="897.8" y="940.5">0</text><text x="932.5" y="940.5">-18</text><text x="967.3" y="940.5">-229</text><text x="1002.1" y="940.5">-915</text><text x="1036.9" y="940.5">-1826</text><text x="1071.7" y="940.5">-320</text><text x="1106.5" y="940.5">-259</text><text x="1141.3" y="940.5">-102</text><text x="1176.1" y="940.5">-1080</text><text x="1210.9" y="940.5">-154</text><text x="1245.7" y="940.5">-22</text><text x="1280.4" y="940.5">-99</text><text x="1315.2" y="940.5">-42</text><text x="1350" y="940.5">-359</text><text x="1384.8" y="940.5">-250</text><text class="tk" x="1419.6" y="940.5">0</text><text x="1454.4" y="940.5">-226</text><text x="1489.2" y="940.5">-61</text><text x="1524" y="940.5">-376</text><text x="1558.8" y="940.5">-1051</text><text x="1593.6" y="940.5">-497</text><text x="1628.3" y="940.5">-93</text><text x="1663.1" y="940.5">-101</text><text class="tk" x="1697.9" y="940.5">0</text><text x="1732.7" y="940.5">-504</text><text x="1767.5" y="940.5">-1123</text><text x="1802.3" y="940.5">-905</text><text x="1837.1" y="940.5">-205</text>
</g>
<!-- labels -->
<rect x="8" y="898" width="88" height="14.5" fill="#c6c6c6" stroke="#111"/>
<rect x="8" y="914" width="88" height="15" fill="#c6c6c6" stroke="#111"/>
<rect x="8" y="929" width="88" height="15" fill="#c6c6c6" stroke="#111"/>
<text class="tk" x="52" y="909.3">V-Delta</text>
<text class="tk" x="52" y="925.5">Max V-Delta</text>
<text class="tk" x="52" y="940.5">Min V-Delta</text>
<text x="13" y="954" fill="#d0d0d0" font-size="10.5">© 2026 NinjaTrader, LLC</text>

<!-- scrollbar -->
<rect x="8" y="994" width="1904" height="19" fill="#2f2f2f"/>
<rect x="8" y="1008" width="1904" height="5" fill="#1f1f1f"/>
<line x1="27.5" y1="1008" x2="27.5" y2="1013" stroke="#2d8ae0"/>
<line x1="100.5" y1="1008" x2="100.5" y2="1013" stroke="#2d8ae0"/>
<rect x="101" y="1008" width="23" height="5" fill="#3c3c3c"/>
<rect x="8" y="996" width="10" height="12" fill="#000"/>
<polygon points="15,999 11,1002 15,1005" fill="#fff"/>
<rect x="1690" y="995" width="157" height="13" fill="#454545" stroke="#777"/>
<rect x="1903" y="995" width="10" height="13" fill="#000"/>
<polygon points="1906,998.5 1910,1001.5 1906,1004.5" fill="#fff"/>

<!-- watermark -->
<polygon points="1720,1013 1915,818 1915,867 1769,1013" fill="#1f5b8f"/>
<line x1="1720" y1="1013" x2="1915" y2="818" stroke="#fff" stroke-width="2.5"/>
<line x1="1769" y1="1013" x2="1915" y2="867" stroke="#fff" stroke-width="2.5"/>
<text x="1829" y="929" transform="rotate(-45 1829 929)" text-anchor="middle" dominant-baseline="central" font-family="DejaVu Sans, sans-serif" font-weight="bold" font-size="27" textLength="228" lengthAdjust="spacingAndGlyphs"><tspan fill="#e8394e">T</tspan><tspan fill="#ffffff">rading</tspan><tspan fill="#a8c6f2">chat</tspan><tspan fill="#ffffff">.org</tspan></text>
</svg>
</body></html>
